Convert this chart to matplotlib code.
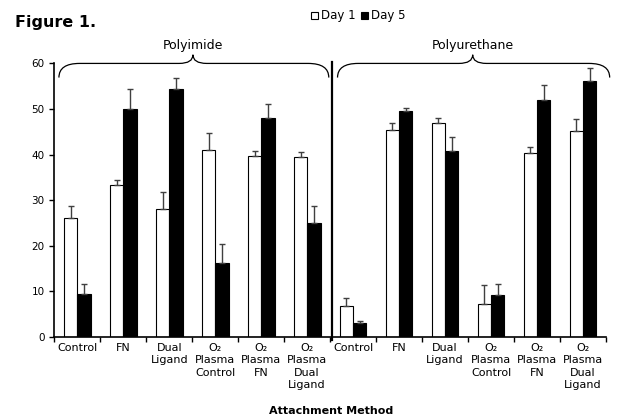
import numpy as np
import matplotlib.pyplot as plt
from matplotlib.path import Path
from matplotlib.patches import PathPatch, Patch

# attachment methods (same six for each material)
methods = ['Control', 'FN', 'Dual\nLigand', 'O₂\nPlasma\nControl',
           'O₂\nPlasma\nFN', 'O₂\nPlasma\nDual\nLigand']
labels = methods + methods

# Polyimide then Polyurethane
day1 = [26.0, 33.4, 28.0, 40.9, 39.7, 39.5,
        6.8, 45.4, 47.0, 7.2, 40.3, 45.1]
day1_err = [2.8, 1.1, 3.8, 3.9, 1.1, 1.1,
            1.7, 1.6, 1.1, 4.1, 1.3, 2.6]
day5 = [9.5, 50.0, 54.4, 16.2, 48.0, 25.0,
        3.0, 49.6, 40.7, 9.2, 51.9, 56.1]
day5_err = [2.0, 4.4, 2.4, 4.1, 3.1, 3.8,
            0.4, 0.6, 3.1, 2.5, 3.3, 3.0]

groups = ['Polyimide', 'Polyurethane']

plt.rcParams['font.family'] = 'DejaVu Sans'

fig = plt.figure(figsize=(6.18, 4.2), dpi=100)
ax = fig.add_axes([0.0879, 0.198, 0.8927, 0.651])

x = np.arange(len(labels))
w = 0.29
ekw = dict(ecolor='#404040', elinewidth=1.0, capsize=2.5, capthick=1.0)
zeros = np.zeros(len(x))
ax.bar(x - w/2, day1, w, color='white', edgecolor='black', linewidth=0.8,
       yerr=[zeros, day1_err], error_kw=ekw, label='Day 1')
ax.bar(x + w/2, day5, w, color='black', edgecolor='black', linewidth=0.8,
       yerr=[zeros, day5_err], error_kw=ekw, label='Day 5')

ax.set_xlim(-0.5, len(labels) - 0.5)
ax.set_ylim(0, 60)
ax.set_yticks(range(0, 61, 10))
ax.set_xticks(x)
ax.set_xticklabels(labels, fontsize=8, linespacing=1.3)
ax.set_xticks(np.arange(-0.5, len(labels), 1), minor=True)
ax.tick_params(axis='x', which='major', length=0, pad=4.5)
ax.tick_params(axis='x', which='minor', length=3.5, width=1, direction='out')
ax.tick_params(axis='y', length=3.5, width=1, pad=3.5, labelsize=7.5)
for s in ['top', 'right']:
    ax.spines[s].set_visible(False)
for s in ['left', 'bottom']:
    ax.spines[s].set_linewidth(1.2)

# divider between the two materials
ax.plot([5.53, 5.53], [-0.8, 60.3], color='black', lw=1.6, clip_on=False)


def brace(x0, x1, xm, yh=60.0, yb=56.9, ytop=61.9, r=0.45, d=0.3):
    verts = [(x0, yb), (x0, yh), (x0 + r, yh),
             (xm - d, yh), (xm, yh), (xm, ytop),
             (xm, yh), (xm + d, yh),
             (x1 - r, yh), (x1, yh), (x1, yb)]
    codes = [Path.MOVETO, Path.CURVE3, Path.CURVE3,
             Path.LINETO, Path.CURVE3, Path.CURVE3,
             Path.CURVE3, Path.CURVE3,
             Path.LINETO, Path.CURVE3, Path.CURVE3]
    ax.add_patch(PathPatch(Path(verts, codes), fill=False, lw=0.9,
                           edgecolor='black', clip_on=False))


brace(-0.4, 5.47, 2.515)
brace(5.66, 11.58, 8.6)
ax.text(2.515, 64.0, groups[0], ha='center', va='center', fontsize=9)
ax.text(8.6, 64.0, groups[1], ha='center', va='center', fontsize=9)

fig.text(0.024, 0.946, 'Figure 1.', fontsize=11.5, fontweight='bold',
         ha='left', va='center')
fig.text(0.535, 0.021, 'Attachment Method', fontsize=8, fontweight='bold',
         ha='center', va='center')

handles = [Patch(facecolor='white', edgecolor='black', lw=0.8, label='Day 1'),
           Patch(facecolor='black', edgecolor='black', lw=0.8, label='Day 5')]
fig.legend(handles=handles, loc='center left', bbox_to_anchor=(0.503, 0.962),
           ncol=2, frameon=False, fontsize=8.5, handlelength=0.6,
           handleheight=0.6, handletextpad=0.25, columnspacing=0.5,
           borderpad=0, borderaxespad=0)

fig.savefig('out.png', dpi=100)
